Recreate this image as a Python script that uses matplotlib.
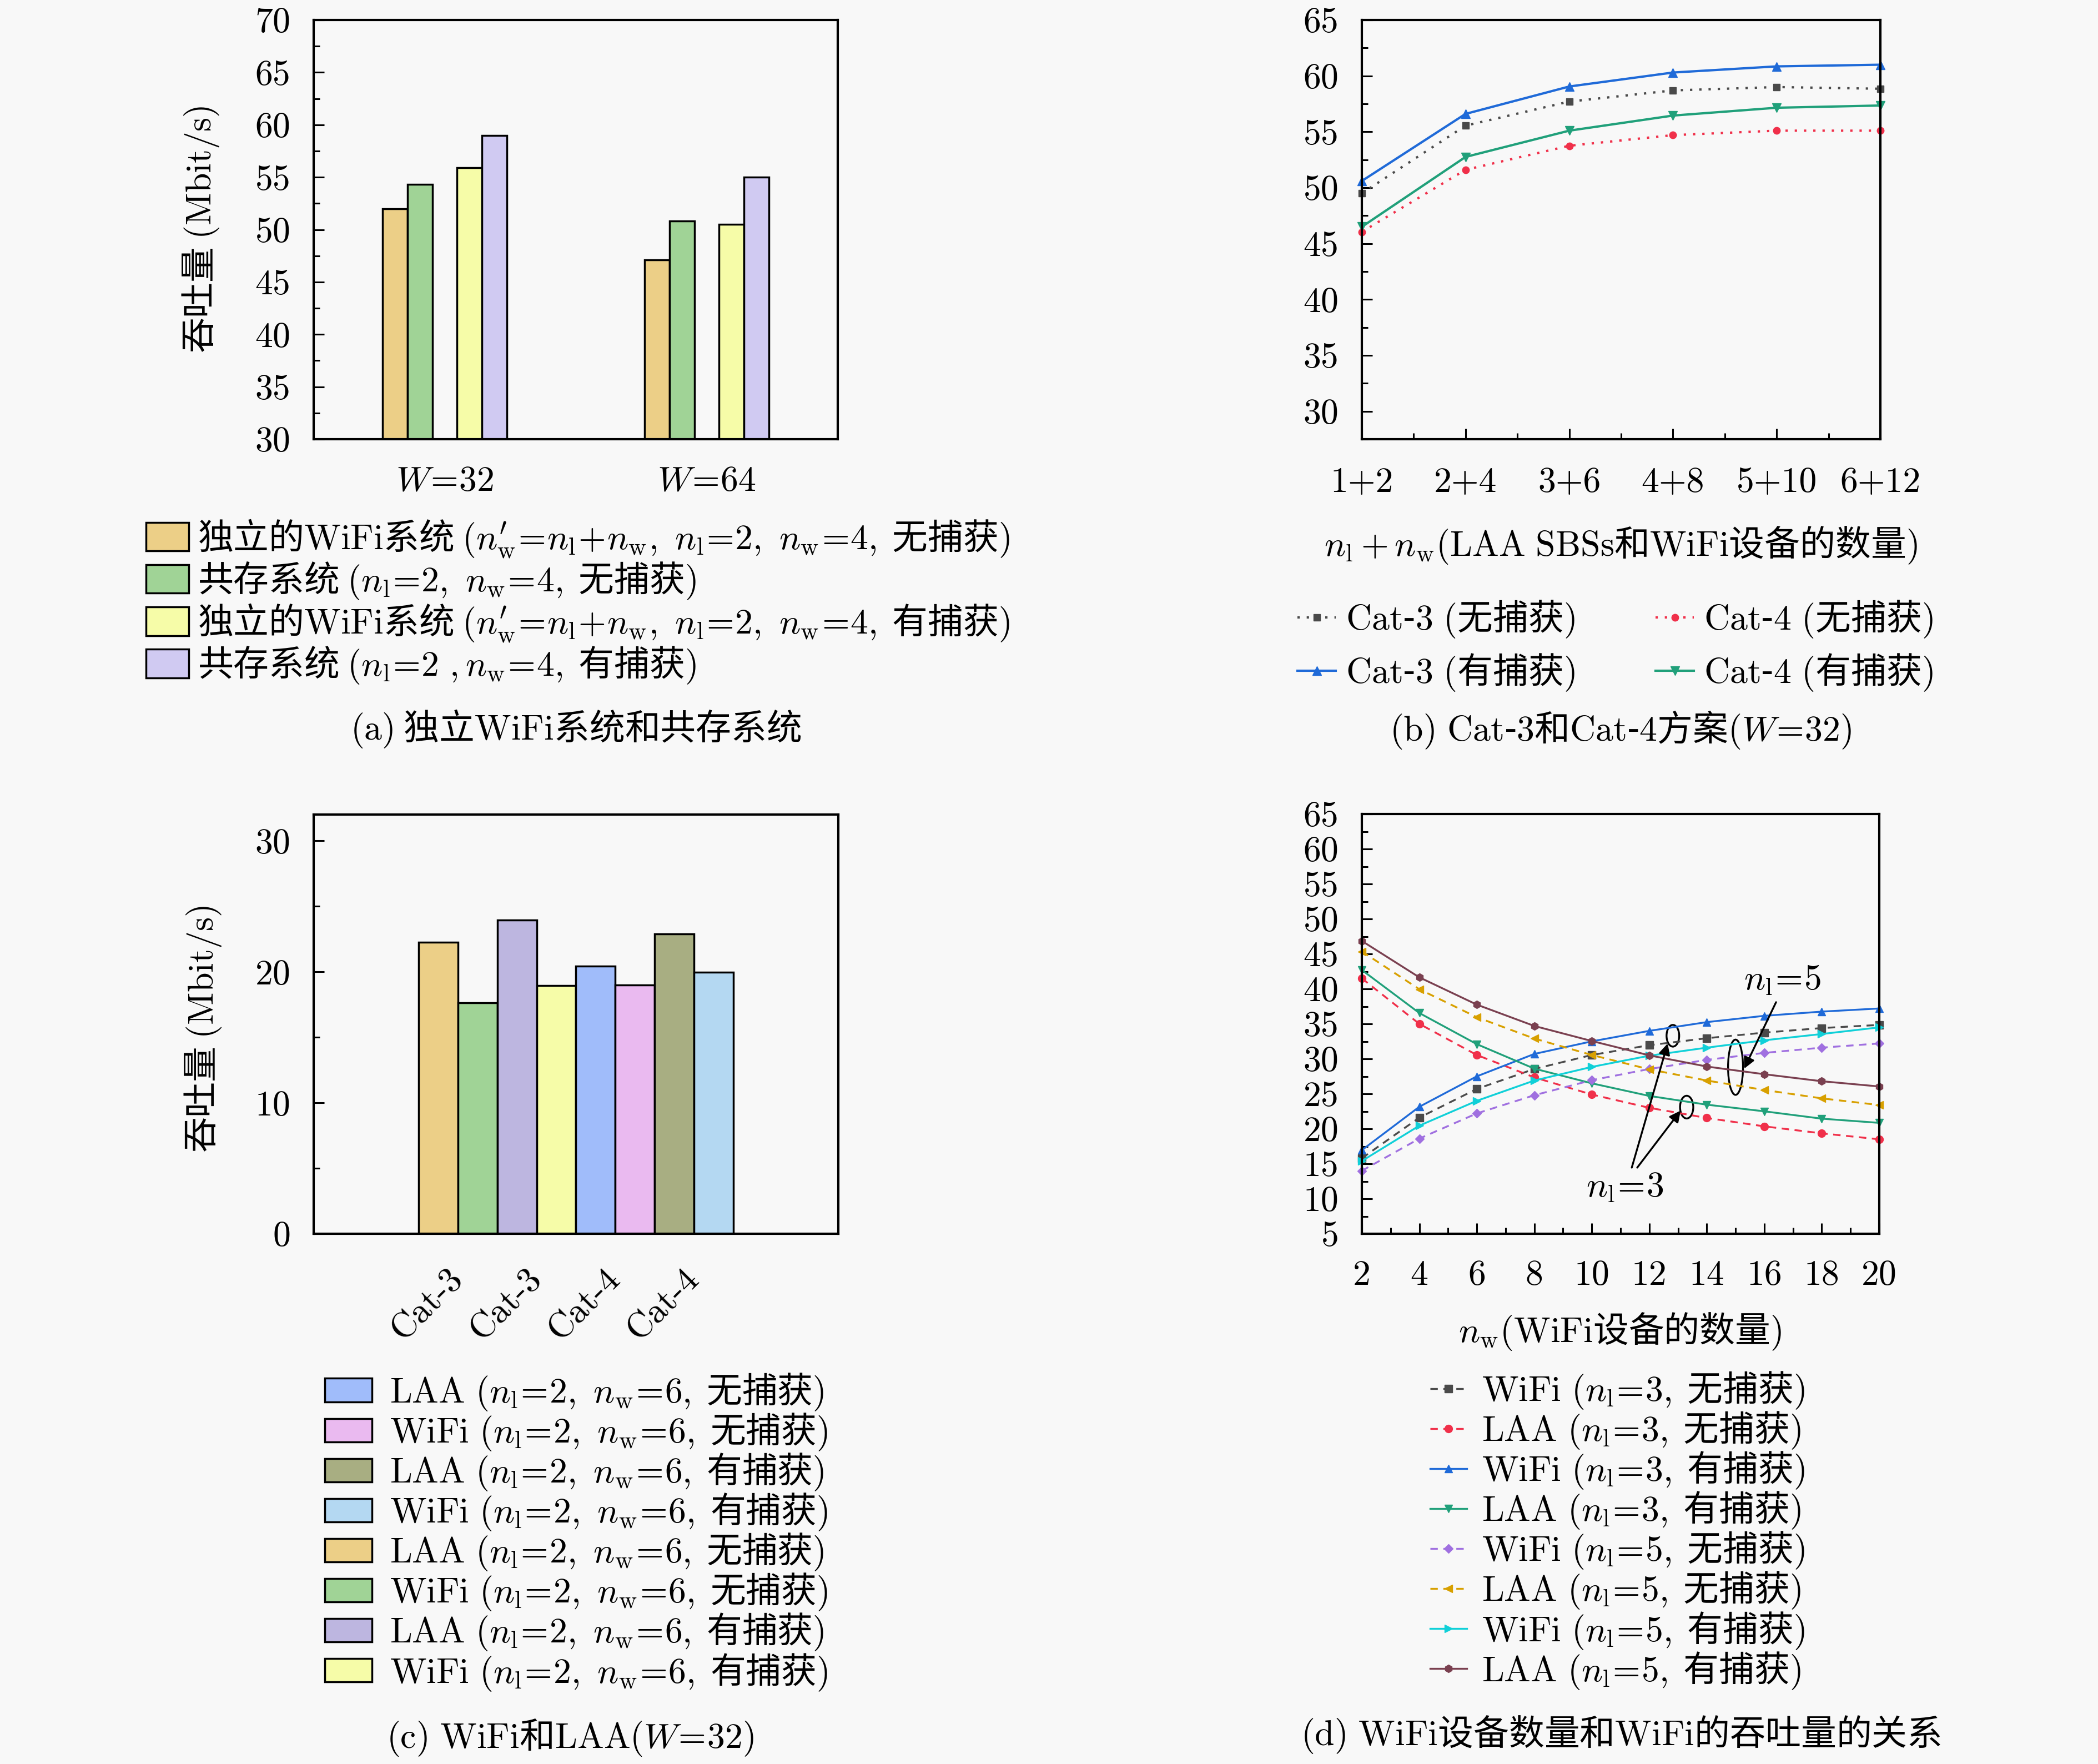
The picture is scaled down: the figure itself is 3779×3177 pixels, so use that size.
import matplotlib
matplotlib.use('Agg')
import matplotlib.pyplot as plt
from matplotlib.patches import Ellipse
from matplotlib.ticker import MultipleLocator, FixedLocator
import numpy as np

plt.rcParams['font.family'] = ['Noto Sans CJK SC', 'DejaVu Sans']
plt.rcParams['mathtext.fontset'] = 'cm'
plt.rcParams['axes.unicode_minus'] = False

# ---------------- data ----------------
# (a)
a_groups = [r'$W\!=\!32$', r'$W\!=\!64$']
a_standalone_nocap = [52.0, 47.1]
a_coexist_nocap = [54.3, 50.8]
a_standalone_cap = [55.9, 50.5]
a_coexist_cap = [59.0, 55.0]
a_labels = [
    r"独立的$\mathrm{WiFi}$系统 $(n_\mathrm{w}^{\prime}\!=\!n_\mathrm{l}\!+\!n_\mathrm{w},\ n_\mathrm{l}\!=\!2,\ n_\mathrm{w}\!=\!4,$ 无捕获$)$",
    r"共存系统 $(n_\mathrm{l}\!=\!2,\ n_\mathrm{w}\!=\!4,$ 无捕获$)$",
    r"独立的$\mathrm{WiFi}$系统 $(n_\mathrm{w}^{\prime}\!=\!n_\mathrm{l}\!+\!n_\mathrm{w},\ n_\mathrm{l}\!=\!2,\ n_\mathrm{w}\!=\!4,$ 有捕获$)$",
    r"共存系统 $(n_\mathrm{l}\!=\!2\ ,n_\mathrm{w}\!=\!4,$ 有捕获$)$",
]
a_colors = ['#ECCF87', '#A0D396', '#F6FCA8', '#D0CAF2']

# (b)
b_xlabels = ['1+2', '2+4', '3+6', '4+8', '5+10', '6+12']
b_cat3_nocap = [49.5, 55.55, 57.7, 58.7, 59.0, 58.85]
b_cat4_nocap = [46.05, 51.6, 53.75, 54.7, 55.1, 55.1]
b_cat3_cap = [50.6, 56.6, 59.05, 60.3, 60.85, 61.0]
b_cat4_cap = [46.5, 52.75, 55.1, 56.45, 57.15, 57.35]
b_labels = [r"$\mathrm{Cat}$-$3\ ($无捕获$)$", r"$\mathrm{Cat}$-$3\ ($有捕获$)$",
            r"$\mathrm{Cat}$-$4\ ($无捕获$)$", r"$\mathrm{Cat}$-$4\ ($有捕获$)$"]

# (c)
c_ticklabels = ['Cat-3', 'Cat-3', 'Cat-4', 'Cat-4']
c_values = [22.24, 17.65, 23.94, 18.95, 20.42, 19.0, 22.89, 19.97]
c_colors = ['#ECCF87', '#A0D396', '#BDB6E0', '#F6FCA8', '#A0BCFA', '#EABAF0', '#A8AE82', '#B4D8F2']
c_labels = [r"$\mathrm{LAA}\ (n_\mathrm{l}\!=\!2,\ n_\mathrm{w}\!=\!6,$ 无捕获$)$",
            r"$\mathrm{WiFi}\ (n_\mathrm{l}\!=\!2,\ n_\mathrm{w}\!=\!6,$ 无捕获$)$",
            r"$\mathrm{LAA}\ (n_\mathrm{l}\!=\!2,\ n_\mathrm{w}\!=\!6,$ 有捕获$)$",
            r"$\mathrm{WiFi}\ (n_\mathrm{l}\!=\!2,\ n_\mathrm{w}\!=\!6,$ 有捕获$)$"] * 2
c_legend_order = [4, 5, 6, 7, 0, 1, 2, 3]

# (d)
d_nw = [2, 4, 6, 8, 10, 12, 14, 16, 18, 20]
d_wifi3_nocap = [15.8, 21.6, 25.7, 28.55, 30.55, 31.95, 32.95, 33.75, 34.4, 34.85]
d_laa3_nocap = [41.5, 35.0, 30.55, 27.35, 24.9, 23.0, 21.55, 20.35, 19.35, 18.5]
d_wifi3_cap = [16.95, 23.15, 27.5, 30.7, 32.5, 34.0, 35.25, 36.15, 36.75, 37.2]
d_laa3_cap = [42.7, 36.55, 32.1, 28.6, 26.5, 24.7, 23.45, 22.5, 21.45, 20.85]
d_wifi5_nocap = [14.0, 18.6, 22.2, 24.8, 26.95, 28.55, 29.85, 30.85, 31.6, 32.2]
d_laa5_nocap = [45.35, 39.95, 35.95, 32.9, 30.55, 28.5, 26.9, 25.55, 24.35, 23.4]
d_wifi5_cap = [15.4, 20.45, 24.0, 26.9, 28.85, 30.45, 31.6, 32.65, 33.55, 34.5]
d_laa5_cap = [46.85, 41.65, 37.75, 34.7, 32.55, 30.5, 28.9, 27.8, 26.8, 26.05]
d_labels = [r"$\mathrm{WiFi}\ (n_\mathrm{l}\!=\!3,$ 无捕获$)$", r"$\mathrm{LAA}\ (n_\mathrm{l}\!=\!3,$ 无捕获$)$",
            r"$\mathrm{WiFi}\ (n_\mathrm{l}\!=\!3,$ 有捕获$)$", r"$\mathrm{LAA}\ (n_\mathrm{l}\!=\!3,$ 有捕获$)$",
            r"$\mathrm{WiFi}\ (n_\mathrm{l}\!=\!5,$ 无捕获$)$", r"$\mathrm{LAA}\ (n_\mathrm{l}\!=\!5,$ 无捕获$)$",
            r"$\mathrm{WiFi}\ (n_\mathrm{l}\!=\!5,$ 有捕获$)$", r"$\mathrm{LAA}\ (n_\mathrm{l}\!=\!5,$ 有捕获$)$"]

# ---------------- layout ----------------
W, H, DPI = 3780, 3177, 100
FS = 46
BG = '#F8F8F8'

fig = plt.figure(figsize=(W / DPI, H / DPI), dpi=DPI, facecolor=BG)


def fr(x0, y0, x1, y1):
    return [x0 / W, 1 - y1 / H, (x1 - x0) / W, (y1 - y0) / H]


def ftext(x, y, s, **kw):
    fig.text(x / W, 1 - y / H, s, ha='center', va='center', fontsize=FS, **kw)


def style(ax):
    ax.set_facecolor(BG)
    for s in ax.spines.values():
        s.set_linewidth(3.0)
    ax.tick_params(which='both', direction='in', top=False, right=False, width=2.2,
                   labelsize=FS, labelfontfamily='cmr10')
    ax.tick_params(axis='y', pad=30)
    ax.tick_params(which='major', length=14)
    ax.tick_params(which='minor', length=8)


ax_a = fig.add_axes(fr(565, 36, 1509, 791))
ax_b = fig.add_axes(fr(2453, 36, 3387, 791))
ax_c = fig.add_axes(fr(565, 1467, 1510, 2222))
ax_d = fig.add_axes(fr(2453, 1466, 3385, 2222))
for ax in (ax_a, ax_b, ax_c, ax_d):
    style(ax)

# ---------------- (a) ----------------
gx = np.arange(1, len(a_groups) + 1)
bw = 0.095
offsets = [-2 * bw, -bw, bw, 2 * bw]
a_series = [a_standalone_nocap, a_coexist_nocap, a_standalone_cap, a_coexist_cap]
a_bars = []
for off, vals, col, lab in zip(offsets, a_series, a_colors, a_labels):
    a_bars.append(ax_a.bar(gx + off, vals, width=bw, color=col, edgecolor='black',
                           linewidth=2.5, label=lab))
ax_a.set_xlim(0.5, 2.5)
ax_a.set_ylim(30, 70)
ax_a.yaxis.set_major_locator(MultipleLocator(5))
ax_a.yaxis.set_minor_locator(MultipleLocator(2.5))
ax_a.set_xticks(gx)
ax_a.set_xticklabels(a_groups)
ax_a.tick_params(axis='x', length=0, pad=34)
ftext(362, 413, r"吞吐量 $(\mathrm{Mbit/s})$", rotation=90)
ax_a.legend(handles=a_bars, loc='upper left', bbox_to_anchor=(263 / W, 1 - 932 / H),
            bbox_transform=fig.transFigure, frameon=False, fontsize=FS, borderpad=0,
            borderaxespad=0, handlelength=1.2, handleheight=0.86, handletextpad=0.25,
            labelspacing=0.02)
ftext(1037, 1313, r"$(\mathrm{a})$ 独立$\mathrm{WiFi}$系统和共存系统")

# ---------------- (b) ----------------
bx = np.arange(len(b_xlabels))
l1, = ax_b.plot(bx, b_cat3_nocap, linestyle=(0, (1, 3)), color='#4A4A4A', marker='s',
                markersize=9, linewidth=3, label=b_labels[0])
l2, = ax_b.plot(bx, b_cat3_cap, linestyle='-', color='#1F6AD8', marker='^',
                markersize=11, linewidth=3, label=b_labels[1])
l3, = ax_b.plot(bx, b_cat4_nocap, linestyle=(0, (1, 3)), color='#F0304A', marker='o',
                markersize=9, linewidth=3, label=b_labels[2])
l4, = ax_b.plot(bx, b_cat4_cap, linestyle='-', color='#20A07A', marker='v',
                markersize=11, linewidth=3, label=b_labels[3])
for ln in (l1, l2, l3, l4):
    ln.set_clip_on(False)
ax_b.set_xlim(bx[0], bx[-1])
ax_b.set_ylim(27.5, 65)
ax_b.yaxis.set_major_locator(FixedLocator(np.arange(30, 66, 5)))
ax_b.yaxis.set_minor_locator(MultipleLocator(2.5))
ax_b.set_xticks(bx)
ax_b.set_xticklabels(b_xlabels)
ax_b.xaxis.set_minor_locator(MultipleLocator(0.5))
ax_b.tick_params(axis='x', pad=36)
ftext(2919, 982, r"$n_\mathrm{l}+n_\mathrm{w}(\mathrm{LAA\ SBSs}$和$\mathrm{WiFi}$设备的数量$)$")
ax_b.legend(handles=[l1, l2, l3, l4], loc='upper left', ncol=2,
            bbox_to_anchor=(2337 / W, 1 - 1078 / H), bbox_transform=fig.transFigure,
            frameon=False, fontsize=FS, borderpad=0, borderaxespad=0, handlelength=1.08,
            handletextpad=0.28, columnspacing=2.28, labelspacing=0.35)
ftext(2919, 1314, r"$(\mathrm{b})\ \mathrm{Cat}$-$3$和$\mathrm{Cat}$-$4$方案$(W\!=\!32)$")

# ---------------- (c) ----------------
cx = np.arange(len(c_values))
c_bars = ax_c.bar(cx, c_values, width=1.0, color=c_colors, edgecolor='black', linewidth=2.5)
ax_c.set_xlim(-3.175, 10.175)
ax_c.set_ylim(0, 32)
ax_c.yaxis.set_major_locator(MultipleLocator(10))
ax_c.yaxis.set_minor_locator(MultipleLocator(5))
ax_c.set_xticks(cx[::2] + 0.5)
ax_c.set_xticklabels(c_ticklabels, rotation=45, ha='right', va='center',
                     rotation_mode='anchor')
ax_c.tick_params(axis='x', length=0, pad=52)
ftext(366, 1853, r"吞吐量 $(\mathrm{Mbit/s})$", rotation=90)
ax_c.legend(handles=[c_bars[i] for i in c_legend_order], labels=[c_labels[i] for i in c_legend_order],
            loc='upper left', bbox_to_anchor=(585 / W, 1 - 2470 / H),
            bbox_transform=fig.transFigure, frameon=False, fontsize=FS, borderpad=0,
            borderaxespad=0, handlelength=1.33, handleheight=0.64, handletextpad=0.5,
            labelspacing=-0.03)
ftext(1027, 3129, r"$(\mathrm{c})\ \mathrm{WiFi}$和$\mathrm{LAA}(W\!=\!32)$")

# ---------------- (d) ----------------
d_series = [d_wifi3_nocap, d_laa3_nocap, d_wifi3_cap, d_laa3_cap,
            d_wifi5_nocap, d_laa5_nocap, d_wifi5_cap, d_laa5_cap]
d_colors = ['#4A4A4A', '#F0304A', '#1F6AD8', '#20A07A', '#A070E0', '#D8A000', '#10D0D8', '#7A4050']
d_styles = ['--', '--', '-', '-', '--', '--', '-', '-']
d_markers = ['s', 'o', '^', 'v', 'D', '<', '>', 'h']
d_lines = []
for vals, col, ls, mk, lab in zip(d_series, d_colors, d_styles, d_markers, d_labels):
    ln, = ax_d.plot(d_nw, vals, linestyle=ls, color=col, marker=mk, markersize=10 if mk != 'D' else 8,
                    linewidth=2.4, label=lab, dashes=(4, 3) if ls == '--' else (None, None))
    ln.set_clip_on(False)
    d_lines.append(ln)
ax_d.set_xlim(2, 20)
ax_d.set_ylim(5, 65)
ax_d.yaxis.set_major_locator(MultipleLocator(5))
ax_d.yaxis.set_minor_locator(MultipleLocator(2.5))
ax_d.xaxis.set_major_locator(MultipleLocator(2))
ax_d.xaxis.set_minor_locator(MultipleLocator(1))
ax_d.tick_params(axis='x', pad=34)

# annotations
ax_d.text(16.62, 41.35, r"$n_\mathrm{l}\!=\!5$", fontsize=FS, ha='center', va='center')
ax_d.text(11.15, 11.75, r"$n_\mathrm{l}\!=\!3$", fontsize=FS, ha='center', va='center')
for (cxe, cye, we, he) in [(15.0, 28.8, 0.52, 7.9), (12.82, 33.3, 0.44, 3.1), (13.3, 23.1, 0.46, 3.25)]:
    ax_d.add_patch(Ellipse((cxe, cye), we, he, fill=False, edgecolor='black', linewidth=2.4))
arrow_kw = dict(arrowstyle='-|>', color='black', lw=2.4, mutation_scale=30, shrinkA=0, shrinkB=0)
ax_d.annotate('', xy=(15.3, 28.6), xytext=(16.41, 38.1), arrowprops=arrow_kw)
ax_d.annotate('', xy=(12.64, 32.2), xytext=(11.39, 14.45), arrowprops=arrow_kw)
ax_d.annotate('', xy=(13.09, 22.6), xytext=(11.58, 14.45), arrowprops=arrow_kw)

ftext(2918, 2398, r"$n_\mathrm{w}(\mathrm{WiFi}$设备的数量$)$")
ax_d.legend(handles=d_lines, loc='upper left', bbox_to_anchor=(2576 / W, 1 - 2467 / H),
            bbox_transform=fig.transFigure, frameon=False, fontsize=FS, borderpad=0,
            borderaxespad=0, handlelength=1.03, handletextpad=0.42, labelspacing=-0.03)
ftext(2920, 3124, r"$(\mathrm{d})\ \mathrm{WiFi}$设备数量和$\mathrm{WiFi}$的吞吐量的关系")

fig.savefig('out.png', dpi=DPI, facecolor=BG)
